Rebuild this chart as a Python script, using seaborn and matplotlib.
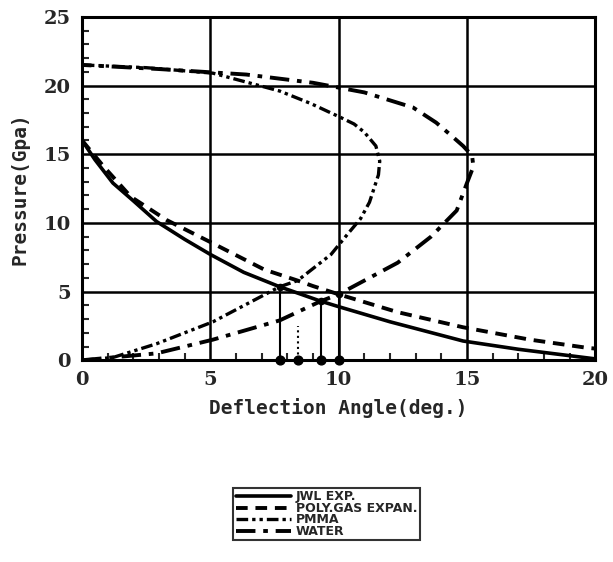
import numpy as np
import pandas as pd
import matplotlib
matplotlib.use("Agg")
import matplotlib.pyplot as plt
import seaborn as sns

jwl_angle = [0, 0.5, 1.2, 2.0, 2.9, 4.0, 5.0, 6.3, 7.7, 9.3, 10.0, 12.0, 14.85, 17.0, 20.0]
jwl_press = [16.0, 14.6, 12.9, 11.6, 10.1, 8.8, 7.7, 6.4, 5.35, 4.3, 3.9, 2.8, 1.4, 0.8, 0.1]

poly_angle = [0, 0.84, 1.9, 3.3, 5.0, 7.1, 8.4, 9.0, 10.0, 12.3, 14.85, 17.45, 19.7, 20.0]
poly_press = [16.0, 14.1, 11.9, 10.2, 8.6, 6.6, 5.8, 5.4, 4.8, 3.5, 2.4, 1.5, 0.9, 0.85]

pmma_angle = [0, 1.2, 2.9, 5.1, 7.7, 8.4, 9.7, 10.4, 10.85, 11.2, 11.55, 11.6, 11.45,
              11.0, 10.6, 10.05, 8.9, 7.7, 5.1, 2.5, 0]
pmma_press = [0, 0.2, 1.2, 2.8, 5.35, 5.8, 7.7, 9.3, 10.3, 11.5, 13.5, 14.5, 15.6,
              16.6, 17.2, 17.7, 18.7, 19.6, 20.9, 21.3, 21.5]

water_angle = [0, 2.9, 5.1, 7.7, 9.3, 10.0, 11.0, 12.3, 13.6, 14.6, 15.0, 15.25, 15.2,
               14.85, 14.3, 13.8, 12.9, 11.0, 9.0, 6.4, 3.0, 0]
water_press = [0, 0.5, 1.5, 2.9, 4.3, 4.8, 5.8, 7.1, 9.0, 10.9, 12.9, 14.1, 14.9,
               15.6, 16.5, 17.3, 18.4, 19.5, 20.2, 20.8, 21.2, 21.5]

# intersection markers on the x axis
cross_angle = [7.7, 8.4, 9.3, 10.0]
cross_press = [5.35, 2.5, 4.3, 4.8]
cross_style = ['-', ':', '-', '-']

labels = ['JWL EXP.', 'POLY.GAS EXPAN.', 'PMMA', 'WATER']

sns.set_style("ticks")
plt.rcParams['font.family'] = ['DejaVu Serif']
plt.rcParams['font.weight'] = 'bold'

fig = plt.figure(figsize=(6.13, 5.62), dpi=100)
ax = fig.add_axes([0.134, 0.359, 0.837, 0.611])

curves = [(jwl_angle, jwl_press), (poly_angle, poly_press),
          (pmma_angle, pmma_press), (water_angle, water_press)]
dashes = [None, (3, 2), (3.5, 1.2, 1, 1.2, 1, 1.2), (5, 2, 1.2, 2)]
widths = [2.6, 2.8, 2.4, 2.8]

handles = []
for (a, p), lab, d, w in zip(curves, labels, dashes, widths):
    df = pd.DataFrame({'angle': a, 'pressure': p})
    sns.lineplot(data=df, x='angle', y='pressure', sort=False, estimator=None,
                 color='black', lw=w, ax=ax, zorder=4)
    line = ax.lines[-1]
    if d is not None:
        line.set_dashes(d)
    handles.append(line)

for xa, yp, st in zip(cross_angle, cross_press, cross_style):
    ax.plot([xa, xa], [0, yp], color='black', lw=1.5, ls=st, zorder=3)
ax.scatter(cross_angle, [0] * len(cross_angle), s=40, color='black', zorder=6, clip_on=False)
ax.scatter([cross_angle[0], cross_angle[2], cross_angle[3]],
           [cross_press[0], cross_press[2], cross_press[3]], s=20, color='black', zorder=6)

ax.set_xlim(0, 20)
ax.set_ylim(0, 25)
ax.set_xticks([0, 5, 10, 15, 20])
ax.set_yticks([0, 5, 10, 15, 20, 25])
ax.set_xticks(np.arange(0, 21, 1), minor=True)
ax.set_yticks(np.arange(0, 26, 1), minor=True)
ax.grid(True, which='major', color='black', lw=1.8)
ax.tick_params(which='both', direction='in', width=1.5, top=False, right=False)
ax.tick_params(which='major', length=0, labelsize=14, pad=8)
ax.tick_params(which='minor', length=5)
for s in ax.spines.values():
    s.set_linewidth(2.2)
    s.set_color('black')
    s.set_visible(True)

ax.set_xlabel('Deflection Angle(deg.)', family='DejaVu Sans Mono', fontsize=14,
              fontweight='bold', labelpad=6)
ax.set_ylabel('Pressure(Gpa)', family='DejaVu Sans Mono', fontsize=14,
              fontweight='bold', labelpad=10)

leg = fig.legend(handles, labels, loc='upper left', bbox_to_anchor=(0.370, 0.143),
                 frameon=True, fancybox=False, edgecolor='black',
                 handlelength=4.4, labelspacing=-0.12, borderpad=0.2,
                 handletextpad=0.4, prop={'family': 'DejaVu Sans', 'weight': 'bold', 'size': 9})
leg.get_frame().set_linewidth(1.5)

fig.savefig('out.png', dpi=100)
